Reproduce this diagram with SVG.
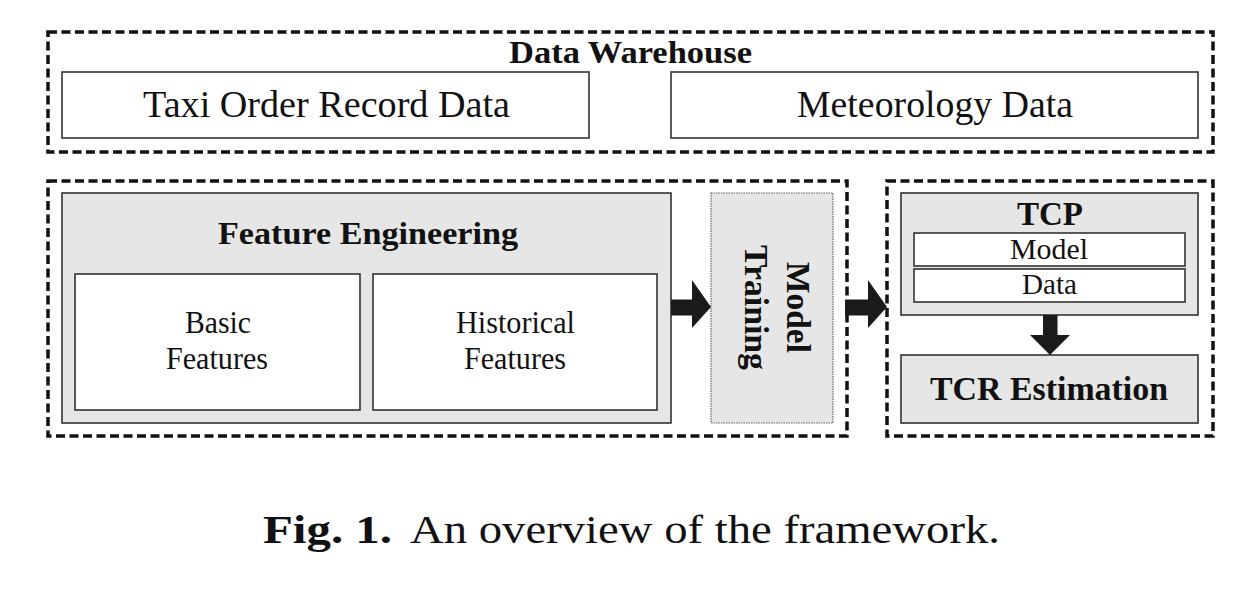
<svg xmlns="http://www.w3.org/2000/svg" width="1244" height="598" viewBox="0 0 1244 598">
<style>
.dash{fill:none;stroke:#111;stroke-width:3.5;stroke-dasharray:9 4.5}
.box{fill:#fff;stroke:#333;stroke-width:1.6}
.gbox{fill:#e5e6e5;stroke:#333;stroke-width:1.6}
.dbox{fill:#e5e6e5;stroke:#666;stroke-width:1.2;stroke-dasharray:1.5 1}
text{font-family:'Liberation Serif','Times New Roman',Times,Tinos,'Nimbus Roman','FreeSerif',serif;fill:#111;text-anchor:middle}
.b{font-weight:bold}
.arr{fill:#1a1a1a}
</style>
<rect width="1244" height="598" fill="#fff"/>
<g id="data-warehouse">
<rect class="dash" x="48" y="32" width="1165" height="120"/>
<text class="b" x="630.5" y="63" font-size="31" textLength="243" lengthAdjust="spacingAndGlyphs">Data Warehouse</text>
</g>
<g id="taxi-order">
<rect class="box" x="62" y="72" width="527" height="66"/>
<text x="326.5" y="117" font-size="38" textLength="367" lengthAdjust="spacingAndGlyphs">Taxi Order Record Data</text>
</g>
<g id="meteorology">
<rect class="box" x="671" y="72" width="527" height="66"/>
<text x="935" y="117" font-size="38" textLength="276" lengthAdjust="spacingAndGlyphs">Meteorology Data</text>
</g>
<g id="training-stage">
<rect class="dash" x="48" y="181" width="799" height="255"/>
</g>
<g id="feature-engineering">
<rect class="gbox" x="62" y="193" width="609" height="230"/>
<text class="b" x="368" y="244" font-size="31" textLength="300" lengthAdjust="spacingAndGlyphs">Feature Engineering</text>
</g>
<g id="basic-features">
<rect class="box" x="75" y="274" width="285" height="136"/>
<text x="218" y="333" font-size="32" textLength="66" lengthAdjust="spacingAndGlyphs">Basic</text>
<text x="217" y="369" font-size="32" textLength="102" lengthAdjust="spacingAndGlyphs">Features</text>
</g>
<g id="historical-features">
<rect class="box" x="373" y="274" width="284" height="136"/>
<text x="515.5" y="333" font-size="32" textLength="119" lengthAdjust="spacingAndGlyphs">Historical</text>
<text x="515" y="369" font-size="32" textLength="102" lengthAdjust="spacingAndGlyphs">Features</text>
</g>
<g id="model-training">
<rect class="dbox" x="711" y="193" width="122" height="230"/>
<text class="b" transform="translate(787,307.5) rotate(90)" x="0" y="0" font-size="33" textLength="91" lengthAdjust="spacingAndGlyphs">Model</text>
<text class="b" transform="translate(745,307.5) rotate(90)" x="0" y="0" font-size="33" textLength="125" lengthAdjust="spacingAndGlyphs">Training</text>
</g>
<g id="estimation-stage">
<rect class="dash" x="887" y="181" width="326" height="255"/>
</g>
<g id="tcp">
<rect class="gbox" x="901" y="193" width="297" height="122"/>
<text class="b" x="1050" y="225" font-size="33" textLength="66" lengthAdjust="spacingAndGlyphs">TCP</text>
<rect class="box" x="914" y="233" width="271" height="33"/>
<text x="1049" y="259" font-size="29" textLength="78" lengthAdjust="spacingAndGlyphs">Model</text>
<rect class="box" x="914" y="269" width="271" height="33"/>
<text x="1049.5" y="294" font-size="29" textLength="55" lengthAdjust="spacingAndGlyphs">Data</text>
</g>
<g id="tcr-estimation">
<rect class="gbox" x="901" y="355" width="297" height="68"/>
<text class="b" x="1049" y="400" font-size="34" textLength="238" lengthAdjust="spacingAndGlyphs">TCR Estimation</text>
</g>
<g id="connectors">
<polygon class="arr" points="671,299.5 692,299.5 692,280 711,307 692,328 692,315.5 671,315.5"/>
<polygon class="arr" points="845,299.5 868,299.5 868,280 887,307 868,328 868,315.5 845,315.5"/>
<polygon class="arr" points="1043,315 1057.5,315 1057.5,335 1070,335 1050,355 1030,335 1043,335"/>
</g>
<g id="caption">
<text class="b" x="263" y="543" font-size="40" style="text-anchor:start" textLength="129" lengthAdjust="spacingAndGlyphs">Fig. 1.</text>
<text x="410" y="543" font-size="40" style="text-anchor:start" textLength="590" lengthAdjust="spacingAndGlyphs">An overview of the framework.</text>
</g>
</svg>
